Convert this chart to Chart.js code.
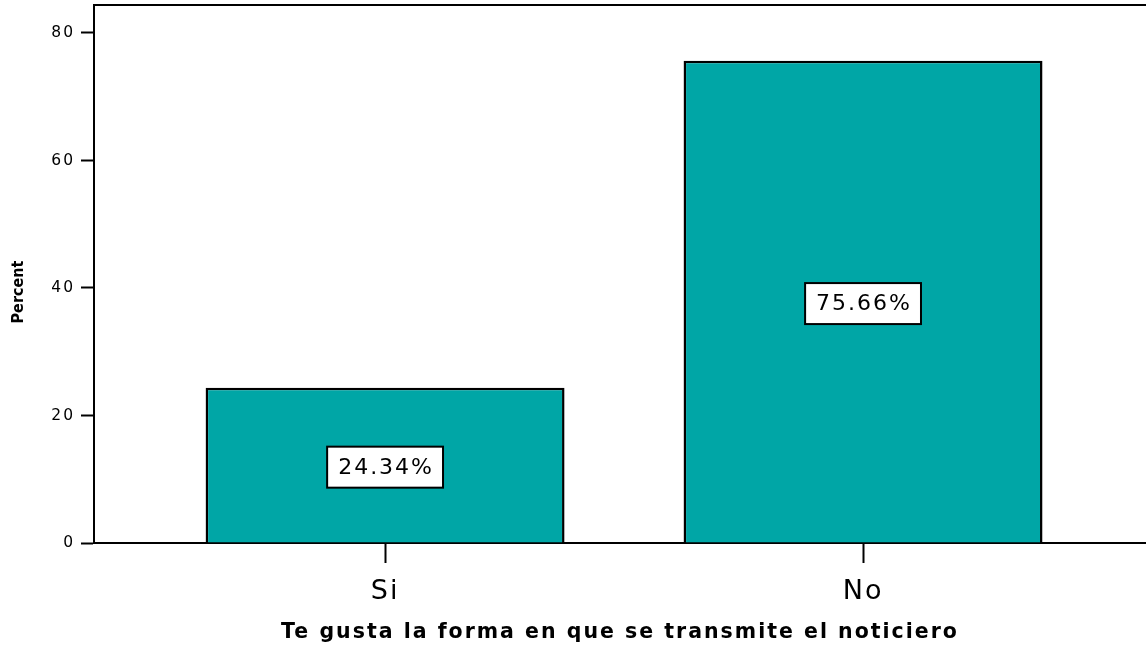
<!DOCTYPE html>
<html>
<head>
<meta charset="utf-8">
<script src="https://cdn.jsdelivr.net/npm/chart.js@4.4.0/dist/chart.umd.min.js"></script>
<style>
  html, body { margin: 0; padding: 0; background: #fff; }
  #wrap { width: 1146px; height: 648px; }
</style>
</head>
<body>
<div id="wrap"><canvas id="chart" width="1146" height="648"></canvas></div>
<script>
// Data
const categories = ['Si', 'No'];
const percents = [24.34, 75.66];
const yTicks = [0, 20, 40, 60, 80];

const barColor = 'rgb(0,166,166)';

// the original uses a wide, spaced-out font, so open up the letters a bit
const wideText = {
  id: 'wideText',
  beforeLayout(chart) { chart.ctx.letterSpacing = '2px'; },
  beforeDraw(chart) { chart.ctx.letterSpacing = '2px'; }
};

// Percent labels in white boxes at the middle of each bar
const boxLabels = {
  id: 'boxLabels',
  afterDatasetsDraw(chart) {
    const ctx = chart.ctx;
    const meta = chart.getDatasetMeta(0);
    ctx.save();
    ctx.font = '22px "DejaVu Sans"';
    ctx.textAlign = 'center';
    ctx.textBaseline = 'middle';
    meta.data.forEach((bar, i) => {
      const text = percents[i].toFixed(2) + '%';
      const w = ctx.measureText(text).width + 20;
      const h = 41;
      const cx = bar.x;
      const cy = (bar.y + bar.base) / 2 + 2;
      ctx.fillStyle = '#fff';
      ctx.fillRect(cx - w / 2, cy - h / 2, w, h);
      ctx.lineWidth = 2;
      ctx.strokeStyle = '#000';
      ctx.strokeRect(cx - w / 2, cy - h / 2, w, h);
      ctx.fillStyle = '#000';
      ctx.fillText(text, cx + 1, cy + 1);
    });
    ctx.restore();
  }
};

// Top frame line of the plot area
const topFrame = {
  id: 'topFrame',
  afterDraw(chart) {
    const { ctx, chartArea } = chart;
    ctx.save();
    ctx.strokeStyle = '#000';
    ctx.lineWidth = 2;
    ctx.beginPath();
    ctx.moveTo(chartArea.left, chartArea.top);
    ctx.lineTo(chartArea.right, chartArea.top);
    ctx.stroke();
    ctx.restore();
  }
};

new Chart(document.getElementById('chart'), {
  type: 'bar',
  data: {
    datasets: [{
      data: categories.map((c, i) => ({ x: i + 1, y: percents[i] })),
      backgroundColor: barColor,
      borderColor: '#000',
      borderWidth: 2.5,
      categoryPercentage: 1,
      barPercentage: 0.751
    }]
  },
  options: {
    responsive: false,
    animation: false,
    layout: { padding: { top: 5, right: 0, left: 0, bottom: 0 } },
    plugins: {
      legend: { display: false },
      tooltip: { enabled: false }
    },
    scales: {
      x: {
        type: 'linear',
        offset: false,
        min: 0.391,
        max: 2.592,
        afterBuildTicks: (scale) => { scale.ticks = categories.map((c, i) => ({ value: i + 1 })); },
        afterFit: (scale) => {
          scale.height = 105;
          scale.paddingLeft = 0;
          scale.paddingRight = 0;
        },
        grid: { offset: false, drawOnChartArea: false, tickLength: 20, tickColor: '#000', tickWidth: 2 },
        border: { color: '#000', width: 2 },
        ticks: {
          color: '#000',
          padding: 13,
          autoSkip: false,
          maxRotation: 0,
          font: { family: 'DejaVu Sans', size: 27 },
          callback: (v) => categories[v - 1]
        },
        title: {
          display: true,
          text: 'Te gusta la forma en que se transmite el noticiero',
          color: '#000',
          font: { family: 'DejaVu Sans', size: 20.5, weight: 'bold' },
          padding: { top: 0, bottom: 3 }
        }
      },
      y: {
        min: 0,
        max: 84.39,
        afterBuildTicks: (scale) => { scale.ticks = yTicks.map(v => ({ value: v })); },
        afterFit: (scale) => {
          scale.width = 94;
          scale.paddingTop = 0;
          scale.paddingBottom = 0;
          // "Percent" sits a bit below the middle and has no extra spacing
          const drawTitle = scale.drawTitle;
          scale.drawTitle = function () {
            this.ctx.save();
            this.ctx.letterSpacing = '0px';
            this.ctx.translate(0, 9);
            drawTitle.call(this);
            this.ctx.restore();
          };
        },
        grid: { drawOnChartArea: false, tickLength: 13, tickColor: '#000', tickWidth: 2 },
        border: { color: '#000', width: 2 },
        ticks: {
          color: '#000',
          padding: 6,
          font: { family: 'DejaVu Sans', size: 15.5 }
        },
        title: {
          display: true,
          text: 'Percent',
          color: '#000',
          font: { family: '"DejaVu Sans Condensed", "DejaVu Sans"', size: 16, weight: 'bold' },
          padding: { top: 9, bottom: 0 }
        }
      }
    }
  },
  plugins: [wideText, boxLabels, topFrame]
});
</script>
</body>
</html>
